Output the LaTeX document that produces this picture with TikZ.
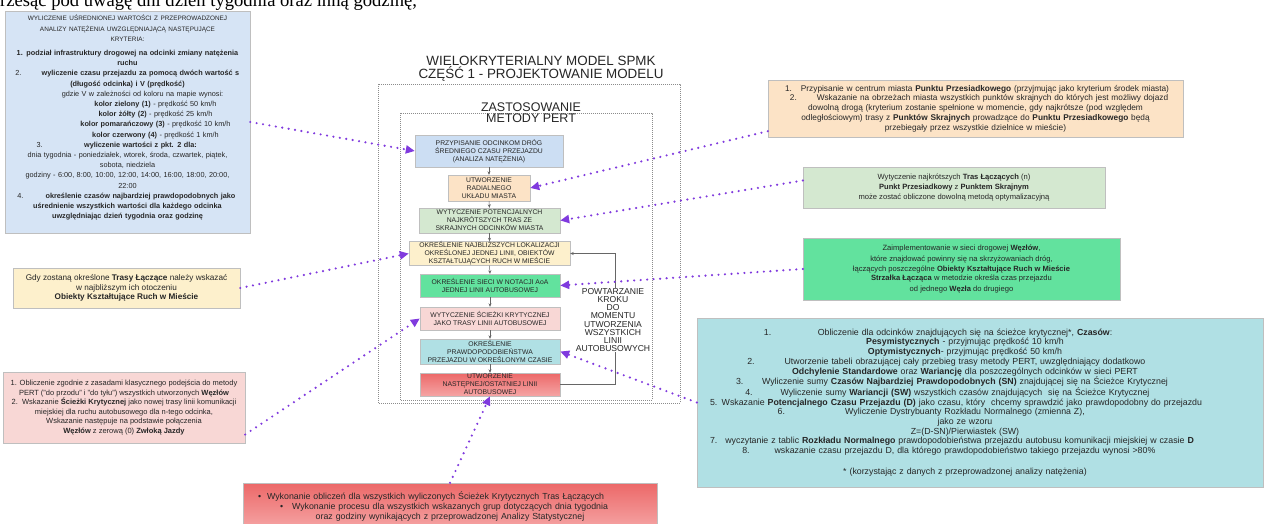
\documentclass[tikz,border=0pt]{standalone}
\usepackage{fontspec}
\setmainfont{Liberation Sans}
\newfontfamily\serifface{Liberation Serif}
\usetikzlibrary{arrows.meta,calc}

\definecolor{purp}{RGB}{128,58,222}
\definecolor{lblue}{RGB}{214,228,245}
\definecolor{cblue}{RGB}{204,222,243}
\definecolor{peach}{RGB}{252,227,198}
\definecolor{lgreen}{RGB}{212,232,208}
\definecolor{lyellow}{RGB}{253,240,204}
\definecolor{mint}{RGB}{98,226,158}
\definecolor{lpink}{RGB}{248,215,213}
\definecolor{lcyan}{RGB}{176,224,228}
\definecolor{redtop}{RGB}{236,104,104}
\definecolor{redbot}{RGB}{245,165,165}

\newcommand{\fsz}[2]{\fontsize{#1}{#2}\selectfont}
% numbered line: number at the left edge, text centred in the rest
\newcommand{\numr}[3]{\makebox[\linewidth]{\makebox[#1][l]{#2}\hfil#3\hfil}}
% numbered line: number overlaid at the left, text centred with a left shift
\newcommand{\numc}[2]{\makebox[\linewidth]{\rlap{#1}\hfil#2\hfil\hspace{30pt}}}
\newcommand{\cenc}[1]{\makebox[\linewidth]{\hfil#1\hfil\hspace{30pt}}}
% centred line shifted to the right
\newcommand{\shr}[2]{\makebox[\linewidth]{\hspace{#1}\hfil#2\hfil}}

\begin{document}
\begin{tikzpicture}[x=1pt,y=-1pt,
  box/.style={draw=black!25, line width=0.4pt, inner sep=0pt, align=center, text=black!85},
  cbox/.style={box, font=\fsz{6.8}{8.1}},
  pur/.style={draw=purp, line width=2.4pt, dash pattern=on 0pt off 6.5pt, line cap=round,
              -{Triangle[length=9pt,width=8pt,fill=purp]}},
  flow/.style={draw=black!60, line width=0.5pt, -{Stealth[length=3.5pt,width=3pt]}},
  frame/.style={draw=black!45, line width=0.6pt, dash pattern=on 0.8pt off 1.2pt}]
\useasboundingbox (0,0) rectangle (1266,524);
\clip (0,0) rectangle (1266,524);
\fill[white] (0,0) rectangle (1266,524);

% line of running text cut by the top edge
\node[anchor=base west, inner sep=0pt, font=\serifface\fsz{18.6}{18.6}] (toptext) at (0,7)
  {rzesąc pod uwagę dni dzień tygodnia oraz inną godzinę,};

% ---------------- central model ----------------
\node[align=center, font=\fsz{13.4}{13}, text=black!85] (title) at (541,68.5)
  {WIELOKRYTERIALNY MODEL SPMK\\CZĘŚĆ 1 - PROJEKTOWANIE MODELU};
\draw[frame] (378,84) rectangle (680,403);
\draw[frame] (400,113) rectangle (652,400);
\node[align=center, font=\fsz{12.5}{11.5}, text=black!85] (pert) at (531,112.5)
  {ZASTOSOWANIE\\METODY PERT};

\node[cbox, fill=cblue, minimum width=148pt, minimum height=32pt] (cBlue) at (489,151)
  {PRZYPISANIE ODCINKOM DRÓG\\ŚREDNIEGO CZASU PRZEJAZDU\\(ANALIZA NATĘŻENIA)};
\node[cbox, fill=peach, minimum width=82pt, minimum height=26pt] (cOrange) at (489,188)
  {UTWORZENIE\\RADIALNEGO\\UKŁADU MIASTA};
\node[cbox, fill=lgreen, minimum width=141pt, minimum height=25pt] (cGreen) at (489.5,220.5)
  {WYTYCZENIE POTENCJALNYCH\\NAJKRÓTSZYCH TRAS ZE\\SKRAJNYCH ODCINKÓW MIASTA};
\node[cbox, fill=lyellow, minimum width=161pt, minimum height=24pt] (cYellow) at (489.5,253.5)
  {OKREŚLENIE NAJBLIŻSZYCH LOKALIZACJI\\OKREŚLONEJ JEDNEJ LINII, OBIEKTÓW\\KSZTAŁTUJĄCYCH RUCH W MIEŚCIE};
\node[cbox, fill=mint, minimum width=140pt, minimum height=23pt] (cMint) at (490,285.5)
  {OKREŚLENIE SIECI W NOTACJI AoA\\JEDNEJ LINII AUTOBUSOWEJ};
\node[cbox, fill=lpink, minimum width=140pt, minimum height=23pt] (cPink) at (490,318.5)
  {WYTYCZENIE ŚCIEŻKI KRYTYCZNEJ\\JAKO TRASY LINII AUTOBUSOWEJ};
\node[cbox, fill=lcyan, minimum width=140pt, minimum height=25pt] (cCyan) at (490,351.5)
  {OKREŚLENIE\\PRAWDOPODOBIEŃSTWA\\PRZEJAZDU W OKREŚLONYM CZASIE};
\node[cbox, top color=redtop, bottom color=redbot, minimum width=140pt, minimum height=23pt] (cRed) at (490,384.5)
  {UTWORZENIE\\NASTĘPNEJ/OSTATNIEJ LINII\\AUTOBUSOWEJ};

\draw[flow] (cBlue.south) -- (cOrange.north);
\draw[flow] (cOrange.south) -- (cGreen.north);
\draw[flow] (cGreen.south) -- (cYellow.north);
\draw[flow] (cYellow.south) -- (cMint.north);
\draw[flow] (cMint.south) -- (cPink.north);
\draw[flow] (cPink.south) -- (cCyan.north);
\draw[flow] (cCyan.south) -- (cRed.north);

% loop back to the location step
\coordinate (loopx) at (615,0);
\draw[flow] (cRed.east) -- (cRed.east -| loopx) |- (cYellow.east);
\node[fill=white, align=center, inner sep=1pt, font=\fsz{8.6}{8.1}, text=black!85] (repeat) at (613,320)
  {POWTARZANIE\\KROKU\\DO\\MOMENTU\\UTWORZENIA\\WSZYSTKICH\\LINII\\AUTOBUSOWYCH};

% ---------------- left notes ----------------
\node[box, fill=lblue, minimum width=245pt, minimum height=222pt, text width=241pt,
      font=\fsz{7.3}{10.2}] (Lblue) at (127.5,122)
  {{\fsz{6.4}{10.2}WYLICZENIE UŚREDNIONEJ WARTOŚCI Z PRZEPROWADZONEJ\\
   ANALIZY NATĘŻENIA UWZGLĘDNIAJĄCĄ NASTĘPUJĄCE\\
   KRYTERIA:}\\[4pt]
   \textbf{1. podział infrastruktury drogowej na odcinki zmiany natężenia}\\
   \textbf{ruchu}\\
   \numr{26pt}{\hspace*{4pt}2.}{\textbf{wyliczenie czasu przejazdu za pomocą dwóch wartość s}}\\
   \textbf{(długość odcinka) i V (prędkość)}\\
   \shr{30pt}{gdzie V w zależności od koloru na mapie wynosi:}\\
   \shr{56pt}{\textbf{kolor zielony (1)} - prędkość 50 km/h}\\
   \shr{56pt}{\textbf{kolor żółty (2)} - prędkość 25 km/h}\\
   \shr{56pt}{\textbf{kolor pomarańczowy (3)} - prędkość 10 km/h}\\
   \shr{56pt}{\textbf{kolor czerwony (4)} - prędkość 1 km/h}\\
   \numr{26pt}{\hspace*{4pt}3.}{\textbf{wyliczenie wartości z pkt. 2 dla:}}\\
   dnia tygodnia - poniedziałek, wtorek, środa, czwartek, piątek,\\
   sobota, niedziela\\
   godziny - 6:00, 8:00, 10:00, 12:00, 14:00, 16:00, 18:00, 20:00,\\
   22:00\\
   \numr{26pt}{\hspace*{4pt}4.}{\textbf{określenie czasów najbardziej prawdopodobnych jako}}\\
   \textbf{uśrednienie wszystkich wartości dla każdego odcinka}\\
   \textbf{uwzględniając dzień tygodnia oraz godzinę}\\[0pt]
   \mbox{}};

\node[box, fill=lyellow, minimum width=227pt, minimum height=40pt, font=\fsz{8.2}{9.5}] (Lyellow) at (126.5,288)
  {Gdy zostaną określone \textbf{Trasy Łączące} należy wskazać\\
   w najbliższym ich otoczeniu\\
   \textbf{Obiekty Kształtujące Ruch w Mieście}};

\node[box, fill=lpink, minimum width=242pt, minimum height=71pt, font=\fsz{7.5}{9.6}] (Lpink) at (124,407.5)
  {1. Obliczenie zgodnie z zasadami klasycznego podejścia do metody\\
   PERT ("do przodu" i "do tyłu") wszystkich utworzonych \textbf{Węzłów}\\
   2.\ \ Wskazanie \textbf{Ścieżki Krytycznej} jako nowej trasy linii komunikacji\\
   miejskiej dla ruchu autobusowego dla n-tego odcinka,\\
   Wskazanie następuje na podstawie połączenia\\
   \textbf{Węzłów} z zerową (0) \textbf{Zwłoką Jazdy}};

\node[box, top color=redtop, bottom color=redbot, minimum width=414pt, minimum height=46pt,
      text width=404pt, font=\fsz{8.8}{10}] (Bred) at (450,506)
  {\makebox[\linewidth][l]{\hspace*{10pt}\textbullet\hspace{6pt}\makebox[370pt][s]{Wykonanie obliczeń dla wszystkich wyliczonych Ścieżek Krytycznych Tras Łączących}}\\
   \makebox[\linewidth]{\rlap{\hspace*{10pt}\textbullet}\hfil Wykonanie procesu dla wszystkich wskazanych grup dotyczących dnia tygodnia\hfil}\\
   oraz godziny wynikających z przeprowadzonej Analizy Statystycznej};

% ---------------- right notes ----------------
\node[box, fill=peach, minimum width=415pt, minimum height=57pt, text width=405pt,
      font=\fsz{8.3}{9.75}] (Rorange) at (975.5,108.5)
  {\makebox[\linewidth][l]{\hspace*{12pt}1.\hspace{9pt}Przypisanie w centrum miasta \textbf{Punktu Przesiadkowego} (przyjmując jako kryterium środek miasta)}\\
   \makebox[\linewidth]{\rlap{\hspace*{12pt}2.}\hfil\hspace{34pt}Wskazanie na obrzeżach miasta wszystkich punktów skrajnych do których jest możliwy dojazd\hfil}\\
   dowolną drogą (kryterium zostanie spełnione w momencie, gdy najkrótsze (pod względem\\
   odległościowym) trasy z \textbf{Punktów Skrajnych} prowadzące do \textbf{Punktu Przesiadkowego} będą\\
   przebiegały przez wszystkie dzielnice w mieście)};

\node[box, fill=lgreen, minimum width=302pt, minimum height=41pt, font=\fsz{7.6}{9.7}] (Rgreen) at (954,187.5)
  {Wytyczenie najkrótszych \textbf{Tras Łączących} (n)\\
   \textbf{Punkt Przesiadkowy} z \textbf{Punktem Skrajnym}\\
   może zostać obliczone dowolną metodą optymalizacyjną};

\node[box, fill=mint, minimum width=317pt, minimum height=62pt, font=\fsz{7.6}{10}] (Rmint) at (961.5,269)
  {Zaimplementowanie w sieci drogowej \textbf{Węzłów},\\
   które znajdować powinny się na skrzyżowaniach dróg,\\
   łączących poszczególne \textbf{Obiekty Kształtujące Ruch w Mieście}\\
   \textbf{Strzałka Łącząca} w metodzie określa czas przejazdu\\
   od jednego \textbf{Węzła} do drugiego};

\node[box, fill=lcyan, minimum width=566pt, minimum height=169pt, text width=540pt,
      font=\fsz{8.8}{9.7}] (Rcyan) at (980,402.5)
  {\numc{1.}{Obliczenie dla odcinków znajdujących się na ścieżce krytycznej*, \textbf{Czasów}:}\\
   \cenc{\textbf{Pesymistycznych} - przyjmując prędkość 10 km/h}\\
   \cenc{\textbf{Optymistycznych}- przyjmując prędkość 50 km/h}\\
   \numc{2.}{Utworzenie tabeli obrazującej cały przebieg trasy metody PERT, uwzględniający dodatkowo}\\
   \cenc{\textbf{Odchylenie Standardowe} oraz \textbf{Wariancję} dla poszczególnych odcinków w sieci PERT}\\
   \numc{3.}{Wyliczenie sumy \textbf{Czasów Najbardziej Prawdopodobnych (SN)} znajdującej się na Ścieżce Krytycznej}\\
   \numc{4.}{Wyliczenie sumy \textbf{Wariancji (SW)} wszystkich czasów znajdujących\ \ się na Ścieżce Krytycznej}\\
   \makebox[\linewidth][l]{5. Wskazanie \textbf{Potencjalnego Czasu Przejazdu (D)} jako czasu, który\ \ chcemy sprawdzić jako prawdopodobny do przejazdu}\\
   \numc{6.}{Wyliczenie Dystrybuanty Rozkładu Normalnego (zmienna Z),}\\
   \cenc{jako ze wzoru}\\
   \cenc{Z=(D-SN)/Pierwiastek (SW)}\\
   \makebox[\linewidth][l]{7.\hspace{8pt}wyczytanie z tablic \textbf{Rozkładu Normalnego} prawdopodobieństwa przejazdu autobusu komunikacji miejskiej w czasie \textbf{D}}\\
   \numc{8.}{wskazanie czasu przejazdu D, dla którego prawdopodobieństwo takiego przejazdu wynosi >80\%}\\[11pt]
   \cenc{* (korzystając z danych z przeprowadzonej analizy natężenia)}};

% ---------------- dotted links to the steps ----------------
\draw[pur] (Lblue.east) -- (cBlue.west);
\draw[pur] ([yshift=6pt]Rorange.south west) -- (cOrange.east);
\draw[pur] ([yshift=7pt]Rgreen.west) -- (cGreen.east);
\draw[pur] (Lyellow.east) -- (cYellow.west);
\draw[pur] (Rmint.west) -- (cMint.east);
\draw[pur] ([yshift=-27pt]Lpink.east) -- (cPink.west);
\draw[pur] (Rcyan.west) -- (cCyan.east);
\draw[pur] (Bred.north) -- (cRed.south);
\end{tikzpicture}
\end{document}
